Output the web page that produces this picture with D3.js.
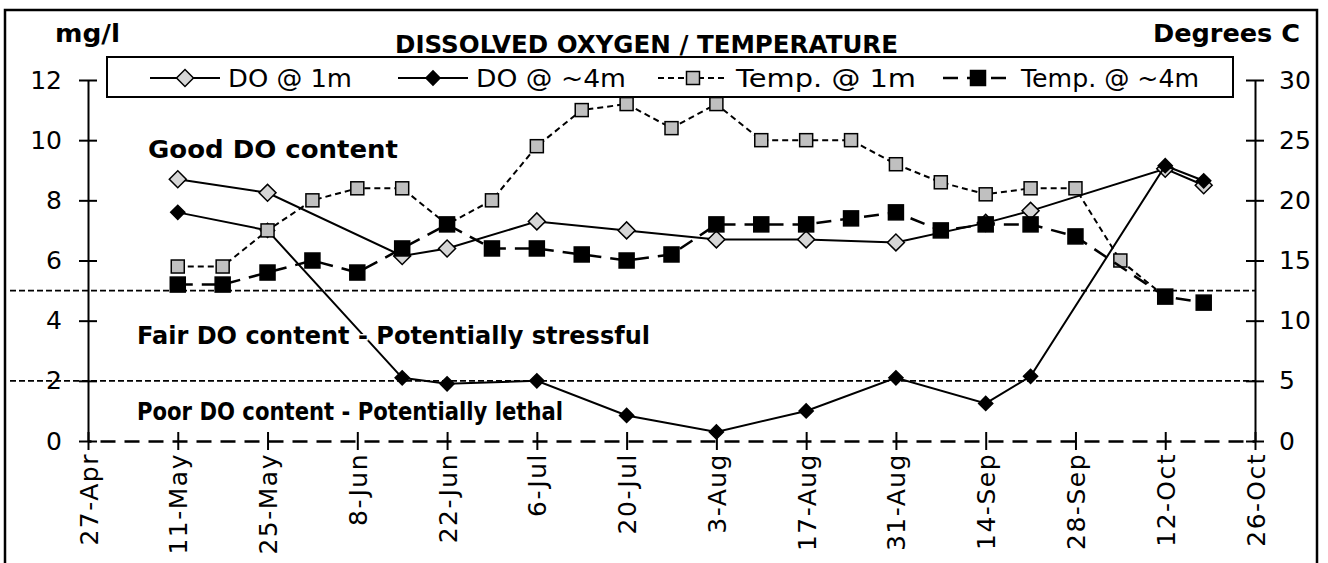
<!DOCTYPE html>
<html>
<head>
<meta charset="utf-8">
<script src="https://cdn.jsdelivr.net/npm/d3@7"></script>
<style>
  body { margin: 0; background: #fff; }
  text { font-family: "DejaVu Sans", sans-serif; }
</style>
</head>
<body>
<script>
// data
let tickLabels = ['27-Apr', '11-May', '25-May', '8-Jun', '22-Jun', '6-Jul', '20-Jul',
                  '3-Aug', '17-Aug', '31-Aug', '14-Sep', '28-Sep', '12-Oct', '26-Oct'];

let doDates = ['11-May', '25-May', '15-Jun', '22-Jun', '6-Jul', '20-Jul', '3-Aug',
               '17-Aug', '31-Aug', '14-Sep', '21-Sep', '12-Oct', '18-Oct'];
let do1m = [8.7, 8.25, 6.15, 6.4, 7.3, 7.0, 6.7, 6.7, 6.6, 7.25, 7.65, 9.05, 8.5];
let do4m = [7.6, 7.0, 2.1, 1.9, 2.0, 0.85, 0.3, 1.0, 2.1, 1.25, 2.15, 9.15, 8.65];

let tempDates = ['11-May', '18-May', '25-May', '1-Jun', '8-Jun', '15-Jun', '22-Jun', '29-Jun',
                 '6-Jul', '13-Jul', '20-Jul', '27-Jul', '3-Aug', '10-Aug', '17-Aug', '24-Aug',
                 '31-Aug', '7-Sep', '14-Sep', '21-Sep', '28-Sep', '5-Oct', '12-Oct', '18-Oct'];
let temp1m = [14.5, 14.5, 17.5, 20, 21, 21, 18, 20, 24.5, 27.5, 28, 26, 28, 25, 25, 25,
              23, 21.5, 20.5, 21, 21, 15, 12, null];
let temp4m = [13, 13, 14, 15, 14, 16, 18, 16, 16, 15.5, 15, 15.5, 18, 18, 18, 18.5,
              19, 17.5, 18, 18, 17, null, 12, 11.5];

let doTicks = [0, 2, 4, 6, 8, 10, 12];
let tempTicks = [0, 5, 10, 15, 20, 25, 30];
let levels = [5, 2];

let parseDay = s => d3.timeParse('%d-%b-%Y')(s + '-2001');

let width = 1328, height = 563;
let margin = {top: 80, right: 73, bottom: 122, left: 88};

let svg = d3.select('body').append('svg')
    .attr('width', width)
    .attr('height', height);

// frame
svg.append('rect')
    .attr('x', 5).attr('y', 10)
    .attr('width', 1312).attr('height', 580)
    .attr('fill', 'none')
    .attr('stroke', 'black')
    .attr('stroke-width', 2.5);

let x = d3.scaleTime()
    .domain([parseDay(tickLabels[0]), parseDay(tickLabels[tickLabels.length - 1])])
    .range([margin.left, width - margin.right]);
let yL = d3.scaleLinear().domain([0, 12]).range([height - margin.bottom, margin.top]);
let yR = d3.scaleLinear().domain([0, 30]).range([height - margin.bottom, margin.top]);

// level lines
svg.selectAll('line.level')
    .data(levels)
    .enter().append('line')
    .attr('class', 'level')
    .attr('x1', 10)
    .attr('x2', x.range()[1])
    .attr('y1', d => yL(d))
    .attr('y2', d => yL(d))
    .attr('stroke', 'black')
    .attr('stroke-width', 1.8)
    .attr('stroke-dasharray', '6,3');

// zone labels (the "fair" one sits over the lines)
let zones = [
    {t: 'Good DO content', x: 148, y: 158, len: 250, top: false, font: '"DejaVu Sans", sans-serif'},
    {t: 'Fair DO content - Potentially stressful', x: 137, y: 344, len: 513, top: true, font: '"DejaVu Sans", sans-serif'},
    {t: 'Poor DO content - Potentially lethal', x: 137, y: 420, len: 426, top: false, font: '"Liberation Sans Narrow", "Liberation Sans", sans-serif'}
];
function zoneText(sel) {
    sel.attr('x', d => d.x)
        .attr('y', d => d.y)
        .attr('font-family', d => d.font)
        .attr('font-size', '24px')
        .attr('font-weight', 'bold')
        .attr('textLength', d => d.len)
        .attr('lengthAdjust', 'spacingAndGlyphs')
        .text(d => d.t);
}
svg.selectAll('text.zone')
    .data(zones.filter(d => !d.top))
    .enter().append('text')
    .attr('class', 'zone')
    .call(zoneText);

// axes
let axL = svg.append('g')
    .attr('transform', `translate(${margin.left},0)`)
    .call(d3.axisLeft(yL).tickValues(doTicks).tickSize(0).tickPadding(26));
let axR = svg.append('g')
    .attr('transform', `translate(${width - margin.right},0)`)
    .call(d3.axisRight(yR).tickValues(tempTicks).tickSize(0).tickPadding(24));
let axX = svg.append('g')
    .attr('transform', `translate(0,${yL(0)})`)
    .call(d3.axisBottom(x).tickValues(tickLabels.map(parseDay))
        .tickFormat(d3.timeFormat('%-d-%b')).tickSize(0));

[axL, axR].forEach(a => {
    a.select('.domain').attr('stroke', 'black').attr('stroke-width', 2);
    a.selectAll('.tick line').attr('x1', -9).attr('x2', 9)
        .attr('stroke', 'black').attr('stroke-width', 2);
    a.selectAll('.tick text').attr('font-size', '25px')
        .attr('font-family', '"DejaVu Sans", sans-serif').attr('fill', 'black');
});
axX.select('.domain')
    .attr('stroke', 'black')
    .attr('stroke-width', 2.5)
    .attr('stroke-dasharray', '15,9')
    .attr('stroke-dashoffset', -12);
axX.selectAll('.tick line').attr('y1', -9).attr('y2', 9)
    .attr('stroke', 'black').attr('stroke-width', 2);
axX.selectAll('.tick text')
    .attr('font-size', '25px')
    .attr('font-family', '"DejaVu Sans", sans-serif')
    .attr('letter-spacing', '1.5px')
    .attr('fill', 'black')
    .attr('text-anchor', 'end')
    .attr('transform', 'rotate(-90)')
    .attr('x', -12)
    .attr('y', 0)
    .attr('dy', '0.36em');

// series
let series = [
    {name: 'DO @ 1m', dates: doDates, vals: do1m, y: yL, dash: null, w: 2,
     shape: 'diamond', size: 12, fill: '#d6d6d6'},
    {name: 'DO @ ~4m', dates: doDates, vals: do4m, y: yL, dash: null, w: 2,
     shape: 'diamond', size: 10, fill: 'black'},
    {name: 'Temp. @ 1m', dates: tempDates, vals: temp1m, y: yR, dash: '6,4', w: 2,
     shape: 'square', size: 13, fill: '#c0c0c0'},
    {name: 'Temp. @ ~4m', dates: tempDates, vals: temp4m, y: yR, dash: '15,9', w: 2.5,
     shape: 'square', size: 15, fill: 'black'}
];

function marker(sel, s) {
    sel.append('rect')
        .attr('x', -s.size / 2).attr('y', -s.size / 2)
        .attr('width', s.size).attr('height', s.size)
        .attr('transform', s.shape === 'diamond' ? 'rotate(45)' : null)
        .attr('fill', s.fill)
        .attr('stroke', 'black')
        .attr('stroke-width', 1.5);
}

series.forEach(s => {
    let pts = s.dates.map((d, i) => ({date: parseDay(d), v: s.vals[i]}))
        .filter(p => p.v !== null);
    let line = d3.line().x(p => x(p.date)).y(p => s.y(p.v));
    svg.append('path')
        .datum(pts)
        .attr('d', line)
        .attr('fill', 'none')
        .attr('stroke', 'black')
        .attr('stroke-width', s.w)
        .attr('stroke-dasharray', s.dash);
    svg.selectAll(null)
        .data(pts)
        .enter().append('g')
        .attr('transform', p => `translate(${x(p.date)},${s.y(p.v)})`)
        .each(function () { marker(d3.select(this), s); });
});

svg.selectAll('text.zonetop')
    .data(zones.filter(d => d.top))
    .enter().append('text')
    .attr('class', 'zonetop')
    .call(zoneText)
    .attr('stroke', 'white')
    .attr('stroke-width', 3)
    .attr('paint-order', 'stroke');

// titles
svg.append('text').attr('x', 55).attr('y', 42)
    .attr('font-size', '24px').attr('font-weight', 'bold')
    .attr('textLength', 65).attr('lengthAdjust', 'spacingAndGlyphs').text('mg/l');
svg.append('text').attr('x', 1153).attr('y', 42)
    .attr('font-size', '24px').attr('font-weight', 'bold')
    .attr('textLength', 147).attr('lengthAdjust', 'spacingAndGlyphs').text('Degrees C');
svg.append('text').attr('x', 395).attr('y', 53)
    .attr('font-size', '24px').attr('font-weight', 'bold')
    .attr('textLength', 503).attr('lengthAdjust', 'spacingAndGlyphs')
    .text('DISSOLVED OXYGEN / TEMPERATURE');

// legend
let legend = svg.append('g');
legend.append('rect')
    .attr('x', 107).attr('y', 57)
    .attr('width', 1126).attr('height', 40)
    .attr('fill', 'white')
    .attr('stroke', 'black')
    .attr('stroke-width', 2);
let legX = [150, 398, 658, 943];
let legLen = [124, 150, 180, 178];
series.forEach((s, i) => {
    let g = legend.append('g').attr('transform', `translate(${legX[i]},78)`);
    g.append('line').attr('x1', 0).attr('x2', 70).attr('y1', 0).attr('y2', 0)
        .attr('stroke', 'black').attr('stroke-width', s.w)
        .attr('stroke-dasharray', s.dash);
    let m = g.append('g').attr('transform', 'translate(35,0)');
    marker(m, s);
    g.append('text').attr('x', 78).attr('y', 0).attr('dy', '0.36em')
        .attr('font-size', '24px')
        .attr('textLength', legLen[i]).attr('lengthAdjust', 'spacingAndGlyphs')
        .text(s.name);
});
</script>
</body>
</html>
